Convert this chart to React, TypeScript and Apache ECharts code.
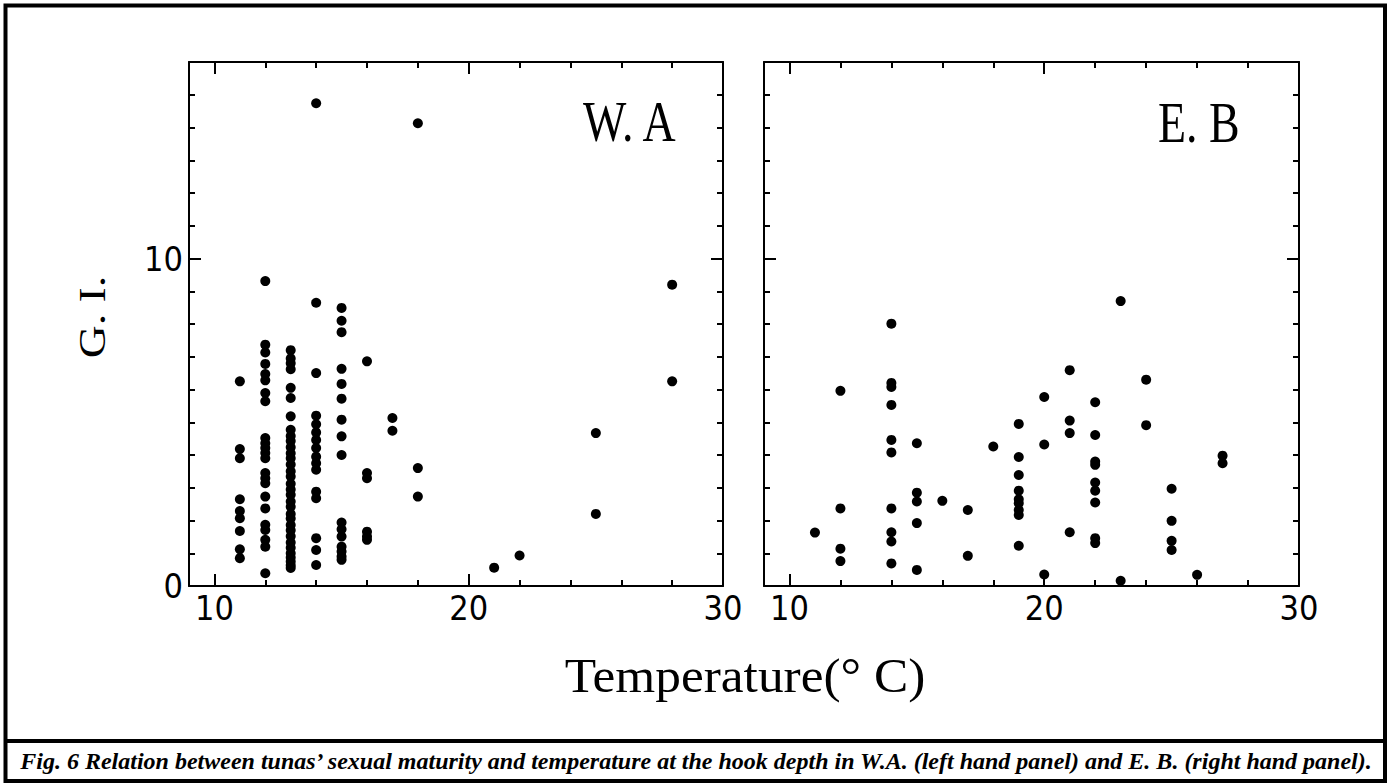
import React, { useEffect, useRef } from "react";
import * as echarts from "echarts";

// ---- W.A panel (left): G.I. values per hook-depth temperature (°C) ----
const wa11 = [6.25, 4.18, 3.9, 2.65, 2.29, 2.07, 1.68, 1.12, 0.85];
const wa12 = [9.31, 7.37, 7.13, 6.78, 6.47, 6.28, 5.89, 5.64, 4.52, 4.36, 4.21, 4.06, 3.9, 3.45, 3.29, 3.14, 2.73, 2.37, 1.87, 1.71, 1.41, 1.2, 0.39];
const wa13 = [7.2, 6.95, 6.8, 6.62, 6.05, 5.74, 5.18, 4.77, 4.58, 4.43, 4.24, 4.05, 3.9, 3.71, 3.5, 3.34, 3.12, 2.95, 2.79, 2.58, 2.42, 2.2, 2.06, 1.86, 1.7, 1.52, 1.33, 1.17, 1.0, 0.87, 0.75, 0.63, 0.55];
const wa14 = [14.74, 8.65, 6.5, 5.2, 4.94, 4.69, 4.46, 4.21, 3.95, 3.75, 3.55, 2.88, 2.68, 1.46, 1.1, 0.64];
const wa15 = [8.49, 8.1, 7.75, 6.63, 6.17, 5.72, 5.08, 4.57, 4.0, 1.94, 1.73, 1.51, 1.2, 1.05, 0.9, 0.8];
const wa16 = [6.86, 3.45, 3.29, 1.66, 1.51, 1.41];
const wa17 = [5.13, 4.74];
const wa18 = [14.13, 3.6, 2.73];
const wa21 = [0.56];
const wa22 = [0.93];
const wa25 = [4.67, 2.2];
const wa28 = [9.2, 6.25];

// ---- E.B panel (right) ----
const eb11 = [1.63];
const eb12 = [5.96, 2.37, 1.14, 0.76];
const eb14 = [8.01, 6.2, 6.08, 5.53, 4.46, 4.08, 2.37, 1.64, 1.36, 0.69];
const eb15 = [4.36, 2.85, 2.58, 1.92, 0.49];
const eb16 = [2.6];
const eb17 = [2.32, 0.92];
const eb18 = [4.26];
const eb19 = [4.95, 3.94, 3.39, 2.91, 2.65, 2.53, 2.32, 2.17, 1.23];
const eb20 = [5.77, 4.32, 0.35];
const eb21 = [6.59, 5.05, 4.67, 1.64];
const eb22 = [5.61, 4.61, 3.8, 3.7, 3.16, 2.91, 2.55, 1.46, 1.31];
const eb23 = [8.7, 0.16];
const eb24 = [6.3, 4.91];
const eb25 = [2.97, 1.99, 1.38, 1.1];
const eb26 = [0.34];
const eb27 = [3.98, 3.75];

const waColumns: [number, number[]][] = [
  [11, wa11], [12, wa12], [13, wa13], [14, wa14], [15, wa15], [16, wa16],
  [17, wa17], [18, wa18], [21, wa21], [22, wa22], [25, wa25], [28, wa28],
];
const ebColumns: [number, number[]][] = [
  [11, eb11], [12, eb12], [14, eb14], [15, eb15], [16, eb16], [17, eb17],
  [18, eb18], [19, eb19], [20, eb20], [21, eb21], [22, eb22], [23, eb23],
  [24, eb24], [25, eb25], [26, eb26], [27, eb27],
];

// ---- axes ----
const xMin = 9;
const xMax = 30;
const yMin = 0;
const yMax = 16;
const xMajor = [10, 20, 30];
const xMinor = [12, 14, 16, 18, 22, 24, 26, 28];
const yMajorLeft = [0, 10];
const yMajorRight = [10];
const yMinor = [1, 2, 3, 4, 5, 6, 7, 8, 9, 11, 12, 13, 14, 15];

const panelNames = ["W. A", "E. B"];
const xTitle = "Temperature(\u00B0 C)";
const yTitle = "G. I.";
const caption =
  "Fig. 6 Relation between tunas\u2019 sexual maturity and temperature at the hook depth in W.A. (left hand panel) and E. B. (right hand panel).";

const toPoints = (cols: [number, number[]][]) =>
  cols.flatMap(([t, vals]) => vals.map((v) => [t, v]));

const tickFont = {
  fontFamily: "'Liberation Sans Narrow', 'DejaVu Sans Condensed', 'Liberation Sans', sans-serif",
  fontSize: 34,
  color: "#000",
};
const lineBlack = { color: "#000", width: 2 };

function xAxesFor(grid: number) {
  const base = { gridIndex: grid, type: "value", min: xMin, max: xMax, splitLine: { show: false } };
  return [
    {
      ...base,
      position: "bottom",
      axisLine: { show: true, onZero: false, lineStyle: lineBlack },
      axisTick: { show: true, inside: true, length: 12, customValues: xMajor, lineStyle: lineBlack },
      axisLabel: { show: true, customValues: xMajor, margin: 5, ...tickFont },
    },
    {
      ...base,
      position: "bottom",
      axisLine: { show: false, onZero: false },
      axisTick: { show: true, inside: true, length: 6, customValues: xMinor, lineStyle: lineBlack },
      axisLabel: { show: false },
    },
    {
      ...base,
      position: "top",
      axisLine: { show: true, onZero: false, lineStyle: lineBlack },
      axisTick: { show: true, inside: true, length: 12, customValues: xMajor, lineStyle: lineBlack },
      axisLabel: { show: false },
    },
    {
      ...base,
      position: "top",
      axisLine: { show: false, onZero: false },
      axisTick: { show: true, inside: true, length: 6, customValues: xMinor, lineStyle: lineBlack },
      axisLabel: { show: false },
    },
  ];
}

function yAxesFor(grid: number, showLabels: boolean) {
  const base = { gridIndex: grid, type: "value", min: yMin, max: yMax, splitLine: { show: false } };
  return [
    {
      ...base,
      position: "left",
      axisLine: { show: true, onZero: false, lineStyle: lineBlack },
      axisTick: { show: true, inside: true, length: 12, customValues: yMajorLeft, lineStyle: lineBlack },
      axisLabel: showLabels
        ? { show: true, customValues: yMajorLeft, margin: 6, ...tickFont }
        : { show: false },
    },
    {
      ...base,
      position: "left",
      axisLine: { show: false, onZero: false },
      axisTick: { show: true, inside: true, length: 6, customValues: yMinor, lineStyle: lineBlack },
      axisLabel: { show: false },
    },
    {
      ...base,
      position: "right",
      axisLine: { show: true, onZero: false, lineStyle: lineBlack },
      axisTick: { show: true, inside: true, length: 12, customValues: yMajorRight, lineStyle: lineBlack },
      axisLabel: { show: false },
    },
    {
      ...base,
      position: "right",
      axisLine: { show: false, onZero: false },
      axisTick: { show: true, inside: true, length: 6, customValues: yMinor, lineStyle: lineBlack },
      axisLabel: { show: false },
    },
  ];
}

export default function App() {
  const ref = useRef<HTMLDivElement>(null);

  useEffect(() => {
    if (!ref.current) return;
    const chart = echarts.init(ref.current, undefined, { renderer: "svg" });
    const serif = "'Liberation Serif', 'Times New Roman', serif";
    const dotStyle = { color: "#000", opacity: 1 };

    chart.setOption({
      animation: false,
      backgroundColor: "#fff",
      grid: [
        { left: 189, top: 62, width: 534, height: 524 },
        { left: 764, top: 62, width: 535, height: 524 },
      ],
      xAxis: [...xAxesFor(0), ...xAxesFor(1)],
      yAxis: [...yAxesFor(0, true), ...yAxesFor(1, false)],
      series: [
        {
          type: "scatter",
          name: panelNames[0],
          xAxisIndex: 0,
          yAxisIndex: 0,
          data: toPoints(waColumns),
          symbolSize: 10,
          itemStyle: dotStyle,
          silent: true,
        },
        {
          type: "scatter",
          name: panelNames[1],
          xAxisIndex: 4,
          yAxisIndex: 4,
          data: toPoints(ebColumns),
          symbolSize: 10,
          itemStyle: dotStyle,
          silent: true,
        },
      ],
      graphic: [
        {
          type: "rect",
          shape: { x: 5.5, y: 5.5, width: 1379.5, height: 775.5 },
          style: { fill: "none", stroke: "#000", lineWidth: 4 },
          silent: true,
        },
        {
          type: "line",
          shape: { x1: 4, y1: 741, x2: 1387, y2: 741 },
          style: { stroke: "#000", lineWidth: 4 },
          silent: true,
        },
        {
          type: "text",
          x: 583,
          y: 122,
          scaleX: 0.82,
          style: {
            text: panelNames[0],
            fontFamily: serif,
            fontSize: 56,
            fill: "#000",
            align: "left",
            verticalAlign: "middle",
          },
        },
        {
          type: "text",
          x: 1158,
          y: 123,
          scaleX: 0.82,
          style: {
            text: panelNames[1],
            fontFamily: serif,
            fontSize: 56,
            fill: "#000",
            align: "left",
            verticalAlign: "middle",
          },
        },
        {
          type: "text",
          x: 745,
          y: 676,
          scaleX: 1.07,
          style: {
            text: xTitle,
            fontFamily: serif,
            fontSize: 48,
            fill: "#000",
            align: "center",
            verticalAlign: "middle",
          },
        },
        {
          type: "text",
          x: 92,
          y: 317,
          rotation: Math.PI / 2,
          scaleX: 1.2,
          style: {
            text: yTitle,
            fontFamily: serif,
            fontSize: 38,
            fill: "#000",
            align: "center",
            verticalAlign: "middle",
          },
        },
        {
          type: "text",
          x: 696,
          y: 761,
          style: {
            text: caption,
            fontFamily: serif,
            fontSize: 24,
            fontStyle: "italic",
            fontWeight: "bold",
            fill: "#000",
            align: "center",
            verticalAlign: "middle",
          },
        },
      ],
    });

    return () => chart.dispose();
  }, []);

  return (
    <div
      ref={ref}
      style={{ position: "fixed", left: 0, top: 0, width: 1396, height: 784, background: "#fff" }}
    />
  );
}
